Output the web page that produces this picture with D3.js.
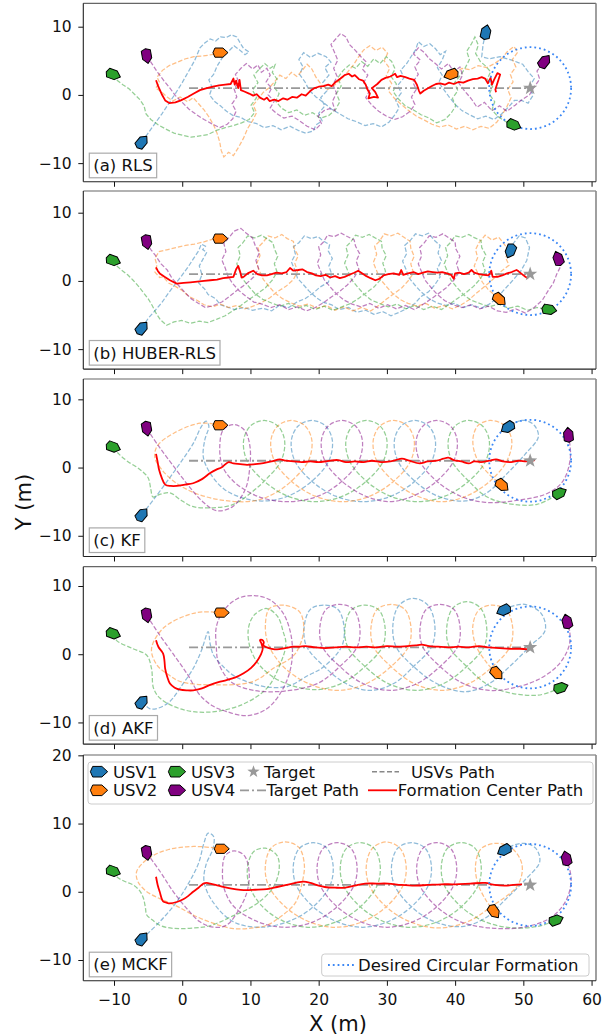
<!DOCTYPE html>
<html><head><meta charset="utf-8">
<script src="https://cdn.jsdelivr.net/npm/d3@7"></script>
<style>
body{margin:0;background:#fff;}
svg{display:block;font-family:"DejaVu Sans",sans-serif;}
</style></head><body>
<svg id="chart" width="611" height="1036"></svg>
<script>
// ---------- data ----------
const xTicks = [-10, 0, 10, 20, 30, 40, 50, 60];
const panelNames = ["(a) RLS", "(b) HUBER-RLS", "(c) KF", "(d) AKF", "(e) MCKF"];
const usvNames = ["USV1", "USV2", "USV3", "USV4"];
const usvColors = ["#1f77b4", "#ff7f0e", "#2ca02c", "#800080"];
const targetPos = [51, 1];
const targetPathX = [1, 51];
const formationRadius = 6;
const startHeading = [50, 0, -20, -80];

// (a) RLS
const rlsUsv1 = [[-5.9,-6.9],[-5.0,-5.6],[-4.0,-4.2],[-3.0,-2.8],[-2.0,-1.3],[-1.0,0.2],[0.0,1.8],[0.9,3.4],[1.8,5.0],[2.6,6.9],[3.3,7.6],[4.1,8.2],[4.9,7.9],[5.6,8.5],[6.4,8.4],[7.2,8.8],[8.0,8.5],[8.5,7.6],[9.0,6.8],[9.8,6.3],[9.2,5.9],[8.4,6.6],[7.6,7.2],[6.7,6.3],[5.9,5.5],[5.1,4.2],[4.6,3.0],[3.9,2.2],[4.4,1.1],[4.0,0.0],[4.8,-1.0],[5.6,-1.6],[6.5,-2.4],[7.4,-3.0],[8.6,-3.3],[9.6,-3.9],[10.9,-4.2],[12.0,-4.8],[13.3,-4.5],[14.5,-5.1],[15.8,-4.6],[17.0,-5.2],[18.1,-5.6],[19.2,-5.3],[19.6,-4.4],[20.5,-3.8],[20.0,-2.7],[20.9,-1.6],[20.3,-0.4],[21.2,0.6],[20.6,1.8],[21.5,2.9],[20.9,4.0],[21.8,4.8],[21.1,5.6],[19.9,6.1],[18.8,5.5],[17.8,6.2],[17.1,5.2],[17.7,4.1],[17.2,3.0],[18.0,1.9],[18.6,0.7],[19.6,-0.3],[20.8,-1.2],[21.9,-2.1],[23.1,-2.8],[24.3,-3.5],[25.5,-3.9],[26.8,-4.5],[28.0,-4.2],[29.2,-4.7],[30.3,-4.0],[31.1,-3.0],[31.8,-1.9],[31.3,-0.8],[32.1,0.3],[31.6,1.4],[32.5,2.5],[32.0,3.6],[32.9,4.6],[33.6,5.7],[34.2,6.6],[34.6,7.8],[35.4,7.1],[36.3,7.5],[37.1,6.8],[37.8,5.9],[38.6,6.4],[38.1,5.1],[37.4,4.0],[38.1,2.9],[37.6,1.8],[38.4,0.7],[39.2,-0.4],[40.0,-1.4],[41.0,-2.3],[42.1,-2.9],[43.3,-3.5],[44.5,-3.1],[45.7,-3.6],[46.8,-2.8],[47.8,-1.8],[48.7,-0.8],[49.7,-0.8],[50.7,-1.2],[51.4,-0.1],[50.9,1.2],[51.6,2.4],[50.7,3.4],[49.9,4.5],[48.3,5.1],[46.6,5.6],[45.0,5.3],[43.9,5.6],[44.1,7.4],[44.5,9.2]];
const rlsUsv2 = [[5.6,6.2],[4.3,5.9],[3.0,5.7],[1.7,5.6],[0.5,5.3],[-0.7,4.8],[-1.9,4.3],[-2.9,3.6],[-3.7,2.6],[-3.3,1.8],[-3.9,1.0],[-3.0,0.4],[-2.2,-0.3],[-1.4,-0.9],[-0.3,-0.3],[0.8,-1.0],[1.6,-0.4],[2.4,-1.3],[3.2,-2.2],[3.9,-3.2],[4.6,-4.4],[5.1,-5.6],[5.5,-6.9],[5.7,-8.1],[6.1,-9.1],[6.8,-8.4],[7.5,-8.9],[8.3,-7.6],[9.0,-6.3],[9.6,-4.9],[10.3,-3.8],[10.9,-2.6],[10.4,-1.5],[11.2,-0.5],[11.9,0.4],[12.8,1.1],[13.6,2.0],[14.3,2.9],[15.2,2.4],[16.0,3.3],[16.8,2.7],[17.6,3.6],[18.3,4.5],[19.0,3.8],[19.6,2.6],[20.4,1.5],[21.3,0.8],[22.3,1.4],[23.3,2.3],[24.2,3.3],[25.1,4.4],[25.8,5.5],[26.6,6.6],[27.5,7.2],[28.4,6.5],[29.3,7.0],[30.1,6.1],[29.6,5.0],[30.4,3.9],[29.9,2.8],[30.7,1.7],[30.2,0.6],[31.1,-0.5],[32.1,-1.4],[33.2,-2.3],[34.3,-3.1],[35.5,-3.7],[36.6,-4.3],[37.8,-4.7],[39.0,-4.4],[40.2,-5.0],[41.4,-4.6],[42.6,-5.1],[43.8,-4.6],[45.0,-4.9],[46.1,-4.0],[46.9,-2.9],[47.6,-1.7],[48.2,-0.4],[47.7,0.8],[48.5,1.9],[48.1,3.0],[48.9,4.1],[48.4,5.2],[49.2,6.3],[48.6,7.1],[47.6,6.3],[46.9,5.4],[45.8,4.6],[44.6,4.0],[43.4,4.3],[42.2,3.7],[41.0,3.9],[40.2,3.3],[39.4,3.0]];
const rlsUsv3 = [[-10.1,3.0],[-9.5,2.1],[-8.7,1.5],[-7.8,0.9],[-7.0,0.1],[-6.2,-0.7],[-5.6,-1.6],[-5.3,-2.8],[-4.6,-3.6],[-3.5,-4.4],[-2.4,-5.0],[-1.2,-5.6],[0.0,-5.9],[1.3,-6.2],[2.6,-6.0],[3.8,-5.8],[5.0,-5.2],[6.3,-4.8],[7.5,-4.5],[8.7,-4.1],[9.8,-3.6],[10.6,-2.6],[10.1,-1.5],[10.9,-0.4],[10.3,0.7],[11.1,1.8],[10.5,2.9],[11.3,3.8],[12.1,4.6],[12.9,3.9],[13.6,4.4],[13.2,3.3],[13.9,2.3],[13.4,1.2],[14.2,0.2],[13.7,-0.9],[14.5,-1.9],[15.6,-2.6],[16.8,-2.2],[17.9,-3.0],[19.1,-2.6],[20.3,-3.4],[21.5,-3.0],[22.5,-2.1],[23.1,-1.0],[22.6,0.2],[23.3,1.3],[22.8,2.5],[23.6,3.6],[24.5,4.4],[25.4,3.9],[26.3,4.9],[27.2,4.2],[28.1,5.3],[29.0,4.6],[29.9,5.6],[30.7,4.9],[31.2,3.8],[30.6,2.7],[31.4,1.6],[30.9,0.5],[31.7,-0.6],[32.7,-1.6],[33.9,-2.2],[35.0,-2.9],[36.2,-3.4],[37.3,-4.1],[38.5,-3.6],[39.4,-2.7],[40.1,-1.6],[39.6,-0.5],[40.4,0.6],[39.9,1.8],[40.8,2.9],[41.5,4.0],[42.1,5.2],[41.7,6.4],[42.4,7.5],[42.9,8.5],[43.4,7.3],[43.0,6.1],[43.7,4.9],[44.4,4.3],[45.2,3.4],[44.7,2.3],[45.5,1.2],[45.0,0.1],[45.8,-1.0],[45.4,-2.2],[46.3,-3.2],[47.4,-3.9],[48.6,-4.4]];
const rlsUsv4 = [[-5.2,5.7],[-4.4,4.5],[-3.6,3.3],[-2.7,2.1],[-1.8,1.0],[-1.0,-0.1],[0.0,-1.1],[1.0,-2.1],[2.1,-2.9],[3.2,-3.6],[4.3,-4.2],[5.5,-4.8],[6.6,-4.3],[7.4,-3.5],[7.9,-2.4],[7.3,-1.3],[8.0,-0.3],[7.6,0.9],[8.3,1.9],[7.8,3.0],[8.6,3.9],[9.4,4.6],[10.3,3.8],[11.1,4.4],[11.6,3.3],[12.4,3.9],[12.9,2.9],[12.3,1.9],[13.1,1.0],[12.6,0.0],[13.5,-0.9],[12.9,-1.9],[13.8,-2.7],[14.9,-3.4],[16.1,-3.1],[17.2,-3.8],[18.3,-4.6],[19.5,-5.1],[20.4,-4.2],[19.9,-3.1],[20.8,-2.3],[21.6,-2.0],[22.4,-2.3],[22.0,-1.0],[22.6,0.3],[22.1,1.5],[22.7,2.7],[22.2,3.9],[22.8,5.1],[22.3,6.3],[21.8,7.4],[22.5,8.2],[23.2,9.0],[24.0,8.5],[24.5,7.4],[25.3,6.6],[26.2,5.6],[27.0,4.8],[26.4,3.8],[27.2,2.9],[26.6,1.8],[27.5,0.7],[26.9,-0.4],[27.8,-1.5],[28.8,-2.4],[29.9,-3.1],[31.1,-3.6],[32.3,-3.2],[33.4,-2.4],[34.1,-1.4],[33.6,-0.3],[34.3,0.8],[33.8,1.9],[34.6,3.0],[34.1,4.1],[34.9,5.1],[33.9,6.0],[34.6,6.9],[35.5,6.2],[36.2,5.3],[37.1,4.6],[38.0,3.8],[39.0,4.6],[39.8,3.4],[40.7,4.1],[41.1,2.9],[40.5,1.8],[41.3,0.7],[42.4,-0.6],[43.2,-1.8],[44.3,-1.1],[45.4,-2.3],[46.5,-1.6],[47.6,-2.4],[48.8,-1.5],[49.8,-0.7],[50.9,0.0],[51.6,1.2],[52.4,2.3],[52.0,3.5],[53.1,4.9]];
const rlsCenter = [[-3.84,2.15],[-3.5,1.2],[-3.0,0.1],[-2.5,-0.8],[-1.9,-1.2],[-1.0,-1.1],[-0.2,-0.8],[0.8,-0.3],[1.7,0.2],[2.6,0.7],[3.6,1.0],[4.5,1.2],[5.4,1.4],[6.3,1.5],[7.1,1.6],[7.5,2.4],[7.7,1.5],[7.9,2.1],[8.2,1.0],[8.4,2.2],[8.6,0.7],[9.1,0.5],[9.8,0.2],[10.4,-0.1],[10.9,0.1],[11.4,-0.4],[12.0,-0.7],[12.4,-0.4],[12.8,-0.9],[13.5,-0.7],[14.1,-0.9],[14.8,-0.5],[15.4,-0.7],[16.1,-0.3],[16.8,-0.4],[17.5,0.1],[18.1,-0.1],[18.8,0.6],[19.4,1.0],[20.0,1.2],[20.7,1.3],[21.4,1.5],[21.9,1.3],[22.5,1.9],[23.2,2.4],[23.8,2.9],[24.4,3.1],[24.9,2.7],[25.3,2.9],[25.9,2.3],[26.5,2.1],[26.9,1.5],[27.1,0.9],[27.5,0.2],[27.3,-0.5],[28.1,-0.3],[28.7,-0.4],[28.3,0.4],[27.8,1.0],[28.6,1.6],[29.2,2.2],[29.8,2.5],[30.5,2.7],[31.2,3.1],[31.5,2.6],[32.0,2.8],[32.7,2.6],[33.3,2.4],[34.0,2.2],[34.4,1.5],[34.7,0.6],[34.9,0.2],[35.4,0.6],[35.9,0.9],[36.6,1.3],[37.2,1.6],[37.8,1.7],[38.5,1.5],[39.1,1.8],[39.8,1.6],[40.5,1.9],[41.2,1.8],[41.9,2.1],[42.6,2.3],[43.3,2.4],[43.9,2.6],[44.4,2.4],[44.8,1.7],[45.2,2.5],[45.4,1.5],[45.7,2.2],[46.2,3.2],[46.6,3.0],[45.9,0.8],[46.0,0.4]];

// (b) HUBER-RLS
const hrlsUsv1 = [[-5.9,-6.9],[-5.0,-5.5],[-4.2,-4.6],[-3.0,-3.2],[-2.1,-1.9],[-1.2,-0.7],[-0.2,0.6],[0.9,2.1],[1.6,3.2],[2.4,4.4],[2.8,5.4],[3.4,5.1],[3.0,4.6],[3.6,4.2],[3.1,3.3],[2.5,2.2],[2.9,0.9],[2.4,-0.3],[3.3,-1.2],[3.8,-2.0],[4.9,-2.6],[5.6,-3.5],[6.8,-3.9],[7.7,-4.2],[9.1,-3.9],[10.3,-4.3],[11.8,-4.0],[13.1,-4.4],[14.2,-3.6],[15.6,-3.9],[16.8,-3.1],[18.0,-2.6],[19.3,-1.7],[20.2,-0.9],[21.4,-0.2],[21.9,1.0],[21.5,2.2],[22.0,3.3],[21.4,4.4],[21.6,5.3],[20.6,5.9],[19.9,6.5],[18.9,6.2],[17.9,6.6],[17.1,5.6],[16.3,5.0],[16.6,3.9],[16.0,2.8],[16.5,1.6],[16.9,0.4],[17.8,-0.6],[18.6,-1.5],[19.7,-2.5],[20.6,-3.1],[21.9,-3.5],[23.0,-4.2],[24.4,-3.9],[25.6,-4.6],[26.9,-4.3],[28.1,-4.9],[29.4,-4.5],[30.6,-5.1],[31.8,-4.6],[33.0,-4.0],[34.1,-3.3],[35.0,-2.3],[36.1,-1.6],[37.0,-0.6],[37.8,0.6],[37.4,1.8],[38.0,3.0],[37.5,4.1],[37.8,5.2],[36.9,6.0],[36.1,7.0],[35.2,6.6],[34.2,6.9],[33.4,5.9],[32.6,5.2],[32.9,4.0],[32.3,2.9],[32.8,1.7],[33.2,0.5],[34.1,-0.6],[35.0,-1.6],[36.2,-2.6],[37.3,-3.2],[38.6,-3.6],[39.9,-3.3],[41.2,-3.9],[42.5,-3.5],[43.8,-4.0],[45.0,-3.4],[46.1,-2.6],[47.0,-1.5],[48.2,-0.2],[49.6,1.4],[50.5,3.0],[50.9,4.9],[50.3,6.3],[49.4,6.6],[48.6,5.6],[48.1,4.4]];
const hrlsUsv2 = [[5.6,6.2],[4.4,6.1],[3.1,5.7],[1.8,5.4],[0.5,5.2],[-0.8,4.9],[-2.1,4.6],[-3.4,4.3],[-4.0,3.3],[-3.7,2.3],[-4.0,1.3],[-3.3,0.5],[-2.8,0.6],[-2.0,-0.3],[-1.0,-0.8],[0.0,-1.4],[1.0,-2.3],[2.1,-2.8],[3.2,-3.5],[4.4,-3.8],[5.6,-3.4],[6.8,-3.9],[8.0,-3.6],[9.2,-4.1],[10.4,-3.7],[11.6,-3.2],[12.8,-2.5],[13.9,-1.6],[15.2,-0.8],[16.3,0.2],[16.9,1.4],[16.5,2.6],[17.0,3.7],[16.4,4.8],[16.3,5.8],[15.4,6.2],[14.6,6.8],[13.6,6.3],[12.6,6.6],[11.8,5.6],[11.1,4.9],[11.4,3.7],[10.9,2.5],[11.4,1.3],[11.9,0.2],[12.8,-0.9],[13.6,-1.8],[14.7,-2.6],[15.9,-3.2],[17.2,-3.7],[18.5,-3.4],[19.8,-4.0],[21.1,-3.6],[22.4,-4.3],[23.7,-3.8],[25.0,-4.4],[26.3,-3.9],[27.6,-4.4],[28.8,-3.6],[29.9,-2.7],[31.0,-1.9],[32.2,-1.0],[33.2,0.1],[33.9,1.2],[33.5,2.5],[34.0,3.6],[33.5,4.8],[33.4,5.8],[32.5,6.4],[31.6,7.0],[30.6,6.6],[29.6,6.9],[28.9,5.8],[28.2,5.1],[28.5,3.9],[28.0,2.7],[28.5,1.5],[29.0,0.3],[29.9,-0.8],[30.8,-1.8],[31.9,-2.7],[33.1,-3.3],[34.4,-3.7],[35.7,-3.3],[37.0,-4.0],[38.3,-3.6],[39.6,-4.1],[40.9,-3.5],[42.0,-2.8],[43.0,-1.9],[44.1,-1.0],[45.3,0.0],[46.5,1.2],[47.9,2.3],[47.4,3.4],[47.9,4.5],[47.1,5.5],[46.4,6.4],[45.4,6.0],[44.4,6.7],[43.5,5.6],[43.0,4.6],[43.3,3.4],[42.8,2.2],[43.4,1.0],[44.0,-0.2],[44.8,-1.2],[45.7,-2.0],[46.5,-2.7]];
const hrlsUsv3 = [[-10.1,3.0],[-9.6,2.2],[-8.9,1.6],[-8.0,0.9],[-7.2,0.1],[-6.4,-0.8],[-5.7,-1.7],[-5.0,-2.6],[-4.4,-3.6],[-3.8,-4.8],[-3.2,-5.7],[-2.3,-6.5],[-1.2,-6.0],[-0.1,-5.8],[1.2,-6.2],[2.5,-5.9],[3.8,-6.1],[5.1,-5.6],[6.3,-5.1],[7.4,-4.4],[8.6,-3.6],[9.8,-2.7],[11.0,-1.9],[12.2,-1.0],[13.2,0.1],[13.9,1.3],[13.5,2.5],[14.0,3.6],[13.5,4.7],[13.3,5.6],[12.4,6.2],[11.6,6.7],[10.6,6.3],[9.6,6.6],[8.9,5.6],[8.2,4.9],[8.5,3.7],[8.0,2.5],[8.5,1.3],[9.0,0.1],[9.9,-1.0],[10.7,-1.9],[11.8,-2.7],[13.0,-3.2],[14.3,-3.7],[15.6,-3.3],[16.9,-4.0],[18.2,-3.6],[19.5,-4.2],[20.8,-3.7],[22.1,-4.3],[23.4,-3.8],[24.7,-3.3],[25.8,-2.6],[26.9,-1.8],[28.1,-0.9],[29.1,0.2],[29.8,1.4],[29.4,2.6],[29.9,3.7],[29.3,4.8],[29.2,5.8],[28.3,6.3],[27.4,6.8],[26.4,6.4],[25.4,6.7],[24.7,5.7],[24.0,5.0],[24.3,3.8],[23.8,2.6],[24.3,1.4],[24.8,0.2],[25.7,-0.9],[26.6,-1.9],[27.7,-2.8],[28.9,-3.3],[30.2,-3.8],[31.5,-3.4],[32.8,-4.1],[34.1,-3.6],[35.4,-4.2],[36.7,-3.7],[38.0,-4.2],[39.2,-3.4],[40.3,-2.6],[41.5,-1.8],[42.7,-0.8],[43.7,0.3],[44.4,1.5],[44.0,2.7],[44.5,3.8],[43.9,4.9],[43.8,5.9],[42.9,6.3],[42.0,6.8],[41.0,6.4],[40.0,6.6],[39.3,5.6],[38.6,4.9],[38.9,3.7],[38.4,2.5],[38.9,1.3],[39.4,0.1],[40.3,-1.0],[41.2,-2.0],[42.3,-2.8],[43.6,-3.3],[45.0,-3.8],[46.4,-3.4],[47.8,-4.0],[49.2,-3.7],[50.6,-4.3],[52.0,-3.9],[53.8,-4.2]];
const hrlsUsv4 = [[-5.2,5.7],[-4.6,4.6],[-3.9,3.7],[-3.1,2.5],[-2.2,1.6],[-1.5,0.4],[-0.6,-0.6],[0.4,-1.7],[1.3,-2.6],[2.4,-3.3],[3.4,-3.9],[4.6,-3.6],[5.8,-3.1],[6.9,-2.3],[8.0,-1.4],[9.3,-0.5],[10.5,0.6],[11.2,1.8],[10.8,3.0],[11.3,4.1],[10.7,5.2],[10.3,6.3],[9.4,7.0],[8.6,7.7],[7.6,7.3],[6.9,6.4],[6.1,5.5],[6.4,4.3],[5.8,3.1],[6.3,1.9],[6.7,0.7],[7.4,-0.4],[8.3,-1.4],[9.4,-2.3],[10.5,-3.1],[11.7,-3.4],[13.0,-3.9],[14.3,-3.5],[15.6,-4.2],[16.9,-3.8],[18.2,-4.4],[19.5,-3.9],[20.7,-3.2],[21.8,-2.4],[23.0,-1.6],[24.2,-0.6],[25.2,0.5],[25.9,1.7],[25.5,2.9],[26.0,4.0],[25.4,5.1],[25.2,6.0],[24.2,6.5],[23.3,7.0],[22.3,6.5],[21.3,6.7],[20.7,5.7],[20.0,5.0],[20.3,3.8],[19.8,2.6],[20.3,1.4],[20.8,0.2],[21.7,-0.9],[22.6,-1.9],[23.7,-2.8],[24.9,-3.4],[26.2,-3.8],[27.5,-3.3],[28.8,-4.0],[30.1,-3.5],[31.4,-4.1],[32.7,-3.6],[34.0,-4.2],[35.2,-3.5],[36.4,-2.7],[37.5,-1.9],[38.7,-1.0],[39.8,0.1],[40.6,1.3],[40.2,2.5],[40.7,3.6],[40.1,4.7],[40.0,5.7],[39.1,6.3],[38.2,6.9],[37.2,6.4],[36.2,6.6],[35.5,5.6],[34.8,4.9],[35.1,3.7],[34.6,2.5],[35.1,1.3],[35.6,0.1],[36.5,-1.0],[37.4,-2.0],[38.5,-2.9],[39.7,-3.5],[41.0,-3.9],[42.3,-3.5],[43.6,-4.1],[44.9,-3.7],[46.2,-4.4],[47.5,-4.6],[48.9,-4.1],[50.3,-4.7],[51.6,-3.9],[52.8,-2.8],[53.6,-1.5],[54.4,-0.3],[54.9,1.0],[55.5,2.2],[55.1,3.3]];
const hrlsCenter = [[-3.84,2.0],[-3.6,1.5],[-3.3,1.1],[-2.6,0.6],[-1.8,0.1],[-0.8,-0.4],[0.2,-0.3],[1.2,-0.2],[2.2,-0.1],[3.2,0.0],[4.1,0.1],[5.1,0.2],[6.0,0.4],[6.8,0.5],[7.5,0.6],[7.9,1.7],[8.2,2.2],[8.5,1.3],[8.7,0.5],[9.0,0.6],[9.6,1.1],[10.4,1.5],[11.0,1.0],[11.7,0.8],[12.4,0.8],[13.1,1.0],[13.8,1.2],[14.6,1.1],[15.3,1.3],[15.8,1.9],[16.3,1.5],[17.0,1.6],[17.6,1.7],[18.3,1.3],[19.0,1.1],[19.6,0.8],[20.3,0.7],[21.0,0.9],[21.7,0.5],[22.4,0.7],[23.1,0.4],[23.8,0.6],[24.5,0.9],[25.2,1.2],[25.8,1.5],[26.4,1.1],[27.0,0.7],[27.6,0.4],[28.3,0.1],[28.9,0.3],[29.5,0.8],[30.2,1.0],[31.0,1.1],[31.8,0.9],[32.1,1.6],[32.4,0.9],[33.1,1.1],[33.9,1.3],[34.6,1.0],[35.3,1.2],[36.0,1.4],[36.7,1.3],[37.4,1.2],[38.1,1.3],[38.8,1.1],[39.4,0.9],[39.8,0.3],[40.0,1.1],[40.6,1.2],[41.3,1.0],[42.0,1.2],[42.4,1.6],[42.8,1.2],[43.5,1.0],[44.2,0.9],[44.9,0.8],[45.3,1.5],[45.5,0.6],[46.2,0.6],[46.9,0.8],[47.6,1.1],[48.3,1.3],[49.0,1.6],[49.3,1.4],[49.8,1.0],[50.3,0.6],[50.7,0.35]];

// (c) KF
const kfUsv1 = [[-5.9,-6.9],[-4.2,-4.7],[-2.2,-2.0],[-0.2,0.8],[1.6,3.5],[2.8,6.0],[3.5,6.8],[3.9,6.1],[3.3,4.0],[3.1,1.5],[4.2,-1.0],[6.2,-3.2],[9.0,-4.5],[12.0,-4.9],[15.5,-4.2],[19.0,-2.0],[21.5,1.0],[22.0,4.0],[21.0,6.1],[19.0,6.9],[17.0,6.1],[16.0,4.0],[16.5,1.0],[19.0,-2.0],[22.5,-4.2],[26.5,-5.0],[30.6,-4.2],[34.1,-2.0],[36.6,1.0],[37.1,4.0],[36.1,6.1],[34.1,6.9],[32.1,6.1],[31.1,4.0],[31.6,1.0],[34.1,-2.0],[37.5,-4.2],[41.5,-4.9],[44.8,-3.6],[47.5,-1.0],[50.3,2.0],[52.2,4.5],[51.6,6.2],[50.2,6.9],[48.8,6.6],[47.7,5.9]];
const kfUsv2 = [[5.6,6.2],[2.6,6.5],[-1.3,5.0],[-3.7,3.1],[-4.0,1.4],[-3.0,-0.3],[-1.0,-2.2],[2.0,-3.8],[6.0,-4.8],[10.5,-4.9],[13.5,-3.8],[16.0,-2.0],[18.5,1.0],[19.0,4.0],[18.0,6.1],[16.0,6.9],[14.0,6.1],[13.0,4.0],[13.5,1.0],[16.0,-2.0],[19.5,-4.2],[23.5,-5.0],[27.5,-4.2],[31.0,-2.0],[33.5,1.0],[34.0,4.0],[33.0,6.1],[31.0,6.9],[29.0,6.1],[28.0,4.0],[28.5,1.0],[31.0,-2.0],[34.5,-4.2],[38.0,-5.0],[41.6,-4.2],[45.1,-2.0],[47.6,1.0],[48.3,4.0],[47.2,6.2],[45.1,6.9],[43.3,6.1],[42.6,4.0],[43.2,1.3],[45.0,-1.0],[46.9,-2.6]];
const kfUsv3 = [[-10.1,3.0],[-9.3,2.0],[-8.0,0.9],[-6.3,-0.2],[-5.0,-1.5],[-4.6,-3.2],[-4.3,-4.3],[-3.2,-3.9],[-1.8,-3.7],[-0.3,-4.7],[1.5,-5.7],[4.5,-5.9],[7.5,-5.4],[10.2,-3.6],[12.0,-2.0],[14.5,1.0],[15.0,4.0],[14.0,6.1],[12.0,6.9],[10.0,6.1],[9.0,4.0],[9.5,1.0],[12.0,-2.0],[15.5,-4.2],[19.5,-5.0],[23.5,-4.2],[27.0,-2.0],[29.5,1.0],[30.0,4.0],[29.0,6.1],[27.0,6.9],[25.0,6.1],[24.0,4.0],[24.5,1.0],[27.0,-2.0],[30.5,-4.2],[34.5,-5.0],[38.5,-4.2],[42.0,-2.0],[44.5,1.0],[45.0,4.0],[44.0,6.1],[42.0,6.9],[40.0,6.1],[39.0,4.0],[39.5,1.0],[42.0,-2.0],[44.5,-4.2],[47.3,-5.2],[52.0,-5.4],[55.3,-3.75]];
const kfUsv4 = [[-5.2,5.7],[-3.5,3.2],[-1.5,0.5],[0.8,-2.5],[3.0,-5.0],[5.0,-6.3],[7.3,-5.8],[9.2,-3.3],[9.9,0.0],[9.9,3.3],[9.1,5.5],[7.5,6.3],[6.0,5.5],[5.5,3.0],[5.9,0.2],[7.5,-2.0],[11.0,-4.2],[15.4,-5.0],[19.9,-4.2],[23.4,-2.0],[25.9,1.0],[26.4,4.0],[25.4,6.1],[23.4,6.9],[21.4,6.1],[20.4,4.0],[20.9,1.0],[23.4,-2.0],[26.9,-4.2],[30.4,-5.0],[33.8,-4.2],[37.3,-2.0],[39.8,1.0],[40.3,4.0],[39.3,6.1],[37.3,6.9],[35.3,6.1],[34.3,4.0],[34.8,1.0],[37.3,-2.0],[40.8,-4.2],[44.4,-5.1],[49.8,-4.7],[53.5,-3.8],[55.8,-2.0],[56.9,1.5],[56.6,4.8]];
const kfCenter = [[-3.84,2.0],[-3.6,0.8],[-3.4,-0.3],[-3.0,-1.5],[-2.5,-2.5],[-1.7,-2.7],[-0.8,-2.7],[0.4,-2.5],[1.6,-2.3],[2.9,-1.7],[4.1,-0.8],[5.0,-0.3],[5.8,0.05],[6.8,0.8],[7.5,0.6],[8.5,0.5],[9.5,0.4],[10.7,0.5],[11.9,0.65],[13.1,0.9],[14.3,1.2],[15.2,1.0],[16.3,0.9],[17.5,0.8],[18.8,0.9],[20.0,0.8],[21.3,0.95],[22.8,1.1],[24.0,0.8],[25.3,0.9],[26.6,0.8],[27.8,1.0],[29.2,0.8],[30.5,0.9],[31.3,1.1],[32.2,1.3],[33.3,1.0],[34.8,0.6],[36.0,0.9],[37.3,1.0],[38.3,1.3],[39.0,1.45],[39.8,1.1],[40.9,0.9],[42.0,0.6],[42.8,0.9],[43.8,0.8],[45.0,1.0],[46.0,1.2],[47.0,0.9],[48.2,0.8],[49.3,1.0],[50.5,0.9],[51.7,1.1]];

// (d) AKF
const akfUsv1 = [[-5.9,-7.0],[-4.7,-8.0],[-3.5,-7.9],[-1.9,-7.0],[0.0,-4.5],[1.6,-2.1],[2.8,0.5],[3.8,3.3],[4.1,1.5],[4.6,-0.15],[6.0,-1.8],[7.5,-3.1],[10.0,-4.2],[12.4,-4.8],[15.5,-4.7],[18.3,-3.2],[20.8,-1.8],[23.4,1.2],[23.7,4.2],[22.8,6.6],[20.8,7.2],[18.8,6.6],[17.9,4.2],[18.2,1.2],[20.8,-1.8],[24.0,-4.3],[27.5,-5.3],[31.0,-4.3],[33.9,-1.8],[36.6,1.2],[37.0,4.5],[36.0,7.2],[33.9,8.2],[31.8,7.2],[30.9,4.5],[31.3,1.2],[33.9,-1.8],[37.5,-4.4],[41.5,-5.5],[45.0,-4.3],[48.0,-1.8],[51.0,1.2],[53.2,3.5],[52.6,6.0],[50.2,7.3],[48.3,7.0],[47.1,6.45]];
const akfUsv2 = [[5.8,6.1],[3.0,6.2],[0.65,5.7],[-2.8,3.8],[-4.5,0.8],[-3.7,-1.6],[-2.0,-3.0],[-0.3,-4.0],[4.6,-4.5],[10.4,-4.0],[13.3,-2.1],[16.5,0.0],[17.8,3.5],[17.2,6.2],[14.8,7.2],[12.8,6.7],[12.2,4.5],[12.6,1.5],[14.8,-1.8],[18.5,-4.3],[22.7,-5.3],[27.0,-4.3],[30.6,-1.8],[33.2,1.2],[33.5,4.2],[32.6,6.6],[30.6,7.3],[28.6,6.6],[27.7,4.2],[28.0,1.2],[30.6,-1.8],[34.0,-4.3],[38.0,-5.3],[42.0,-4.3],[45.5,-1.8],[48.1,1.2],[48.4,4.2],[47.5,6.5],[45.5,7.2],[43.5,6.5],[42.6,4.2],[43.0,1.4],[44.6,-1.2],[46.1,-2.8]];
const akfUsv3 = [[-10.1,3.0],[-9.6,2.0],[-7.2,0.8],[-5.2,-0.15],[-4.5,-2.1],[-4.2,-5.0],[-3.2,-6.5],[-0.3,-8.0],[3.6,-8.5],[8.5,-7.5],[12.4,-5.0],[14.3,-1.6],[15.2,1.5],[14.8,3.3],[14.0,5.5],[12.4,6.7],[10.6,5.8],[9.7,3.8],[10.0,0.8],[11.5,-1.8],[14.5,-4.0],[19.5,-5.2],[23.5,-4.2],[26.8,-1.8],[29.4,1.2],[29.7,4.2],[28.8,6.5],[26.8,7.2],[24.8,6.5],[23.9,4.2],[24.2,1.2],[26.8,-1.8],[30.2,-4.3],[34.3,-5.3],[38.3,-4.3],[41.7,-1.8],[44.3,1.2],[44.6,4.2],[43.7,6.8],[41.7,7.7],[39.7,6.8],[38.8,4.2],[39.1,1.2],[41.7,-1.8],[44.5,-4.3],[47.3,-5.5],[52.2,-6.0],[55.5,-4.9]];
const akfUsv4 = [[-5.2,5.7],[-3.3,2.8],[-1.3,0.0],[0.8,-3.0],[2.6,-6.0],[4.5,-7.6],[6.5,-8.4],[9.4,-9.0],[12.4,-8.0],[14.8,-5.0],[16.0,-1.5],[16.0,2.5],[14.8,6.0],[12.8,8.0],[10.4,8.6],[8.0,8.1],[6.0,6.3],[5.0,4.0],[5.0,1.0],[5.3,-1.2],[7.1,-4.0],[10.5,-5.3],[15.0,-5.4],[19.8,-4.3],[23.1,-1.8],[25.7,1.2],[26.0,4.2],[25.1,6.6],[23.1,7.3],[21.1,6.6],[20.2,4.2],[20.5,1.2],[23.1,-1.8],[26.5,-4.3],[30.5,-5.3],[34.4,-4.3],[37.8,-1.8],[40.4,1.2],[40.7,4.2],[39.8,6.6],[37.8,7.3],[35.8,6.6],[34.9,4.2],[35.2,1.2],[37.8,-1.8],[41.2,-4.3],[45.0,-5.3],[48.2,-5.0],[52.0,-3.8],[55.1,-1.6],[56.7,1.2],[56.8,3.3],[56.4,4.8]];
const akfCenter = [[-3.84,2.05],[-3.5,1.1],[-2.8,0.1],[-2.6,-1.0],[-2.5,-2.1],[-2.2,-3.3],[-1.8,-4.3],[-1.1,-4.9],[-0.3,-5.2],[0.7,-5.3],[1.6,-5.3],[2.9,-5.0],[4.1,-4.5],[5.3,-4.1],[6.5,-3.8],[7.8,-3.4],[9.0,-2.8],[10.1,-2.0],[10.9,-1.1],[11.5,-0.1],[11.8,0.8],[11.6,1.6],[11.4,2.05],[11.7,2.1],[11.95,1.8],[11.9,1.3],[12.4,1.0],[13.1,0.8],[13.9,0.7],[15.1,0.9],[16.3,1.1],[17.2,1.1],[18.0,1.2],[19.5,1.0],[21.0,0.9],[22.5,1.0],[24.0,1.1],[25.5,1.0],[27.0,1.1],[28.5,1.0],[30.0,1.2],[31.5,1.1],[33.0,1.2],[34.2,1.3],[35.1,1.4],[36.2,1.2],[37.5,1.1],[39.0,1.0],[40.5,1.1],[42.0,1.0],[43.5,1.2],[45.0,1.0],[46.5,0.9],[48.0,0.8],[49.5,0.8],[50.7,0.7]];

// (e) MCKF
const mckfUsv1 = [[-5.9,-6.9],[-3.3,-4.4],[-0.9,-1.6],[0.9,1.2],[2.4,4.2],[3.2,7.2],[3.8,8.6],[4.6,8.1],[4.5,6.3],[3.5,4.0],[3.2,1.5],[4.5,-1.5],[7.5,-4.4],[11.4,-5.2],[15.7,-4.3],[19.2,-2.2],[21.7,1.0],[22.1,4.0],[21.2,6.4],[19.2,7.2],[17.2,6.4],[16.3,4.0],[16.7,1.0],[19.2,-2.2],[22.7,-4.4],[26.4,-5.2],[30.1,-4.4],[33.6,-2.2],[36.1,1.0],[36.5,4.0],[35.6,6.4],[33.6,7.2],[31.6,6.4],[30.7,4.0],[31.1,1.0],[33.6,-2.2],[37.0,-4.4],[41.0,-5.1],[44.5,-3.8],[47.3,-1.2],[50.3,1.8],[52.4,4.4],[51.8,6.4],[50.2,7.1],[48.5,6.8],[47.2,6.1]];
const mckfUsv2 = [[5.8,6.3],[3.0,6.6],[0.6,6.6],[-2.0,6.2],[-4.1,5.4],[-5.8,4.2],[-6.7,2.9],[-6.5,1.5],[-5.3,0.1],[-3.3,-1.0],[-0.8,-2.1],[1.6,-3.4],[4.5,-4.6],[7.5,-5.4],[10.5,-5.3],[12.4,-4.9],[14.5,-3.6],[16.6,-1.6],[17.5,1.0],[17.9,4.0],[17.1,6.5],[15.1,7.3],[13.1,6.5],[12.2,4.0],[12.6,1.0],[15.1,-2.2],[18.6,-4.4],[22.5,-5.2],[26.4,-4.4],[29.9,-2.2],[32.4,1.0],[32.8,4.0],[31.9,6.4],[29.9,7.3],[27.9,6.4],[27.0,4.0],[27.4,1.0],[29.9,-2.2],[33.4,-4.4],[37.6,-5.3],[41.8,-4.4],[45.3,-2.2],[49.2,1.0],[49.8,4.0],[48.3,6.4],[46.0,7.1],[43.8,6.3],[43.0,4.0],[43.3,1.3],[44.5,-1.2],[45.7,-2.9]];
const mckfUsv3 = [[-10.1,3.0],[-9.6,2.2],[-8.4,1.5],[-7.2,1.0],[-6.2,0.1],[-5.7,-0.9],[-5.4,-2.3],[-5.2,-3.4],[-4.4,-4.1],[-3.3,-4.9],[-1.8,-5.3],[-0.3,-5.4],[1.8,-5.3],[3.6,-5.1],[5.6,-4.4],[7.5,-3.5],[9.5,-2.6],[11.4,-1.4],[13.3,0.6],[14.2,3.2],[13.9,5.3],[12.2,6.4],[10.5,5.9],[9.6,3.8],[9.8,1.0],[11.6,-2.0],[14.8,-4.3],[18.8,-5.2],[22.6,-4.4],[26.1,-2.2],[28.6,1.0],[29.0,4.0],[28.1,6.4],[26.1,7.2],[24.1,6.4],[23.2,4.0],[23.6,1.0],[26.1,-2.2],[29.6,-4.4],[33.5,-5.2],[37.4,-4.4],[40.9,-2.2],[43.4,1.0],[43.8,4.0],[42.9,6.4],[40.9,7.2],[38.9,6.4],[38.0,4.0],[38.4,1.0],[40.9,-2.2],[44.4,-4.4],[48.5,-5.3],[52.5,-5.0],[54.8,-4.15]];
const mckfUsv4 = [[-5.2,5.7],[-3.2,2.9],[-1.3,0.0],[0.8,-2.6],[2.6,-4.4],[4.6,-5.2],[6.5,-4.9],[8.2,-2.8],[9.5,0.0],[9.8,3.0],[9.1,5.3],[7.6,6.0],[6.3,5.3],[5.9,3.0],[6.2,0.3],[7.6,-2.2],[11.1,-4.4],[15.1,-5.2],[19.2,-4.4],[22.7,-2.2],[25.2,1.0],[25.6,4.0],[24.7,6.4],[22.7,7.2],[20.7,6.4],[19.8,4.0],[20.2,1.0],[22.7,-2.2],[26.2,-4.4],[30.0,-5.2],[33.8,-4.4],[37.3,-2.2],[39.8,1.0],[40.2,4.0],[39.3,6.4],[37.3,7.2],[35.3,6.4],[34.4,4.0],[34.8,1.0],[37.3,-2.2],[40.8,-4.4],[45.0,-5.3],[50.0,-5.2],[54.0,-3.8],[56.3,-1.2],[57.0,2.0],[56.3,4.9]];
const mckfCenter = [[-3.84,2.2],[-3.6,1.0],[-3.3,0.0],[-2.8,-1.4],[-2.3,-1.6],[-1.8,-1.7],[-0.8,-1.5],[0.15,-1.1],[0.9,-0.6],[1.6,0.0],[2.4,0.6],[3.1,1.2],[3.6,1.3],[4.1,1.2],[5.3,0.9],[6.5,0.6],[7.7,0.4],[9.0,0.25],[10.7,0.3],[12.4,0.4],[13.9,0.7],[15.3,1.0],[16.6,1.3],[17.8,1.5],[18.8,1.3],[20.0,0.9],[20.9,0.7],[22.4,0.6],[23.9,0.6],[25.3,0.9],[26.8,1.2],[28.5,1.2],[30.2,1.2],[32.1,1.0],[34.1,0.9],[36.0,1.0],[38.0,1.1],[40.0,1.1],[42.2,1.2],[44.4,1.3],[45.8,1.0],[47.3,0.9],[48.6,1.0],[49.8,1.1]];

const panelUsvPaths = [
  [rlsUsv1, rlsUsv2, rlsUsv3, rlsUsv4],
  [hrlsUsv1, hrlsUsv2, hrlsUsv3, hrlsUsv4],
  [kfUsv1, kfUsv2, kfUsv3, kfUsv4],
  [akfUsv1, akfUsv2, akfUsv3, akfUsv4],
  [mckfUsv1, mckfUsv2, mckfUsv3, mckfUsv4]
];
const panelCenters = [rlsCenter, hrlsCenter, kfCenter, akfCenter, mckfCenter];

// ---------- layout ----------
const svg = d3.select("#chart");
const K = 6.822;                       // pixels per metre (equal aspect)
const plotLeft = 83.3, plotRight = 596;
const x = d3.scaleLinear().domain([-14.5, 60.65]).range([plotLeft, plotRight]);
const layout = [
  {top: 3.3,   ylim: [-12.73, 13.43], yticks: [-10, 0, 10]},
  {top: 191,   ylim: [-12.93, 13.18], yticks: [-10, 0, 10]},
  {top: 379,   ylim: [-13.04, 12.98], yticks: [-10, 0, 10]},
  {top: 566.7, ylim: [-13.18, 12.83], yticks: [-10, 0, 10]},
  {top: 755,   ylim: [-13.05, 20.05], yticks: [-10, 0, 10, 20]}
];
const smoothPanels = [false, false, true, true, true];

const boatShape = [[7.5,0],[2.5,-4.6],[-5.5,-4.6],[-7.5,0],[-5.5,4.6],[2.5,4.6]];
function drawBoat(g, cx, cy, headingDeg, color, scale) {
  g.append("polygon")
    .attr("points", boatShape.map(p => [p[0]*scale, p[1]*scale].join(",")).join(" "))
    .attr("transform", `translate(${cx},${cy}) rotate(${-headingDeg})`)
    .attr("fill", color).attr("stroke", "#000").attr("stroke-width", 1)
    .attr("stroke-linejoin", "round");
}
function starPath(R, r) {
  const pts = [];
  for (let k = 0; k < 10; k++) {
    const a = -Math.PI / 2 + k * Math.PI / 5;
    const rad = k % 2 === 0 ? R : r;
    pts.push([rad * Math.cos(a), rad * Math.sin(a)]);
  }
  return "M" + pts.map(p => p.join(",")).join("L") + "Z";
}
function heading(p, q) {
  return Math.atan2(q[1] - p[1], q[0] - p[0]) * 180 / Math.PI;
}

const defs = svg.append("defs");

layout.forEach((L, i) => {
  const h = (L.ylim[1] - L.ylim[0]) * K;
  const bottom = L.top + h;
  const y = d3.scaleLinear().domain(L.ylim).range([bottom, L.top]);
  const g = svg.append("g");

  defs.append("clipPath").attr("id", "clip" + i)
    .append("rect").attr("x", plotLeft).attr("y", L.top)
    .attr("width", plotRight - plotLeft).attr("height", h);
  const plot = g.append("g").attr("clip-path", `url(#clip${i})`);

  const line = d3.line().x(d => x(d[0])).y(d => y(d[1]))
    .curve(smoothPanels[i] ? d3.curveCatmullRom.alpha(0.5) : d3.curveLinear);

  // USV trajectories
  panelUsvPaths[i].forEach((p, j) => {
    plot.append("path").attr("d", line(p))
      .attr("fill", "none").attr("stroke", usvColors[j]).attr("stroke-opacity", 0.5)
      .attr("stroke-width", 1.25).attr("stroke-dasharray", "4.5,2");
  });

  // target path
  plot.append("line")
    .attr("x1", x(targetPathX[0])).attr("x2", x(targetPathX[1]))
    .attr("y1", y(targetPos[1])).attr("y2", y(targetPos[1]))
    .attr("stroke", "#999").attr("stroke-width", 1.8)
    .attr("stroke-dasharray", "9,3,2,3");

  // formation centre path
  plot.append("path").attr("d", line(panelCenters[i]))
    .attr("fill", "none").attr("stroke", "#ff0000").attr("stroke-width", 1.8)
    .attr("stroke-linejoin", "round");

  // desired circular formation
  plot.append("circle")
    .attr("cx", x(targetPos[0])).attr("cy", y(targetPos[1]))
    .attr("r", x(formationRadius) - x(0))
    .attr("fill", "none").attr("stroke", "#3b87f5").attr("stroke-width", 1.8)
    .attr("stroke-dasharray", "1.8,3");

  // target
  plot.append("path").attr("d", starPath(7.5, 3))
    .attr("transform", `translate(${x(targetPos[0])},${y(targetPos[1])})`)
    .attr("fill", "#999");

  // USV start and end poses
  panelUsvPaths[i].forEach((p, j) => {
    drawBoat(plot, x(p[0][0]), y(p[0][1]), startHeading[j], usvColors[j], 1);
    const n = p.length;
    drawBoat(plot, x(p[n-1][0]), y(p[n-1][1]), heading(p[n-2], p[n-1]), usvColors[j], 1);
  });

  // axes
  const ay = g.append("g").attr("transform", `translate(${plotLeft},0)`)
    .call(d3.axisLeft(y).tickValues(L.yticks).tickSize(5).tickPadding(6.6).tickFormat(d3.format("d")));
  ay.select(".domain").remove();
  ay.attr("font-size", 15.5).attr("font-family", "DejaVu Sans, sans-serif").attr("color", "#111");

  const axx = d3.axisBottom(x).tickValues(xTicks).tickSize(5).tickPadding(8.5);
  if (i < layout.length - 1) axx.tickFormat(() => "");
  else axx.tickFormat(d3.format("d"));
  const ax = g.append("g").attr("transform", `translate(0,${bottom})`).call(axx);
  ax.select(".domain").remove();
  ax.attr("font-size", 15.5).attr("font-family", "DejaVu Sans, sans-serif").attr("color", "#111");

  // spines
  g.append("line").attr("x1", plotLeft).attr("x2", plotRight).attr("y1", L.top).attr("y2", L.top)
    .attr("stroke", "#666").attr("stroke-width", 1.2);
  g.append("line").attr("x1", plotRight).attr("x2", plotRight).attr("y1", L.top).attr("y2", bottom)
    .attr("stroke", "#888").attr("stroke-width", 1.6);
  g.append("line").attr("x1", plotLeft).attr("x2", plotLeft).attr("y1", L.top).attr("y2", bottom)
    .attr("stroke", "#222").attr("stroke-width", 1.1);
  g.append("line").attr("x1", plotLeft).attr("x2", plotRight).attr("y1", bottom).attr("y2", bottom)
    .attr("stroke", "#222").attr("stroke-width", 1.1);

  // panel label
  const lab = g.append("g");
  const lbox = lab.append("rect");
  const ltxt = lab.append("text").attr("x", plotLeft + 10).attr("y", bottom - 10.6)
    .attr("font-size", 16.5).attr("fill", "#111").text(panelNames[i]);
  const tw = ltxt.node().getComputedTextLength();
  lbox.attr("x", plotLeft + 6).attr("y", bottom - 28.6).attr("width", tw + 8).attr("height", 24.6)
    .attr("fill", "#fff").attr("stroke", "#aaa").attr("stroke-width", 1.2);

  if (i === layout.length - 1) drawLegends(g);
});

function drawLegends(g) {
  const lg = g.append("g").attr("font-size", 16.5).attr("fill", "#111");
  lg.append("rect").attr("x", 88).attr("y", 762).attr("width", 505).attr("height", 42).attr("rx", 3)
    .attr("fill", "#fff").attr("fill-opacity", 0.85).attr("stroke", "#ccc").attr("stroke-width", 1);
  const r1 = 771.7, r2 = 790.3, base = 5.9;
  // USV markers
  const usvSlots = [[99, r1], [99, r2], [177, r1], [177, r2]];
  usvNames.forEach((name, j) => {
    const [mx, my] = usvSlots[j];
    drawBoat(lg, mx, my, 0, usvColors[j], 1.15);
    lg.append("text").attr("x", mx + 14).attr("y", my + base).text(name);
  });
  // target
  lg.append("path").attr("d", starPath(6.5, 2.6)).attr("transform", `translate(253.5,${r1})`).attr("fill", "#999");
  lg.append("text").attr("x", 264).attr("y", r1 + base).text("Target");
  lg.append("line").attr("x1", 240).attr("x2", 266).attr("y1", r2).attr("y2", r2)
    .attr("stroke", "#999").attr("stroke-width", 1.8).attr("stroke-dasharray", "9,3,2,3");
  lg.append("text").attr("x", 266.5).attr("y", r2 + base).text("Target Path");
  // USVs path
  lg.append("line").attr("x1", 372).attr("x2", 399).attr("y1", r1).attr("y2", r1)
    .attr("stroke", "#888").attr("stroke-width", 1.5).attr("stroke-dasharray", "5,2.5");
  lg.append("text").attr("x", 411).attr("y", r1 + base).text("USVs Path");
  // centre path
  lg.append("line").attr("x1", 368).attr("x2", 397).attr("y1", r2).attr("y2", r2)
    .attr("stroke", "#ff0000").attr("stroke-width", 1.8);
  lg.append("text").attr("x", 397.7).attr("y", r2 + base).text("Formation Center Path");

  // desired formation legend
  lg.append("rect").attr("x", 321.7).attr("y", 954).attr("width", 267.3).attr("height", 22).attr("rx", 3)
    .attr("fill", "#fff").attr("fill-opacity", 0.85).attr("stroke", "#ccc").attr("stroke-width", 1);
  lg.append("line").attr("x1", 328).attr("x2", 355).attr("y1", 965).attr("y2", 965)
    .attr("stroke", "#3b87f5").attr("stroke-width", 1.8).attr("stroke-dasharray", "1.8,3");
  lg.append("text").attr("x", 358).attr("y", 965 + base).text("Desired Circular Formation");
}

// axis titles
svg.append("text").attr("x", 338).attr("y", 1031).attr("text-anchor", "middle")
  .attr("font-size", 21).attr("fill", "#111").text("X (m)");
svg.append("text").attr("transform", "translate(30.5,502) rotate(-90)").attr("text-anchor", "middle")
  .attr("font-size", 21).attr("fill", "#111").text("Y (m)");
</script>
</body></html>
